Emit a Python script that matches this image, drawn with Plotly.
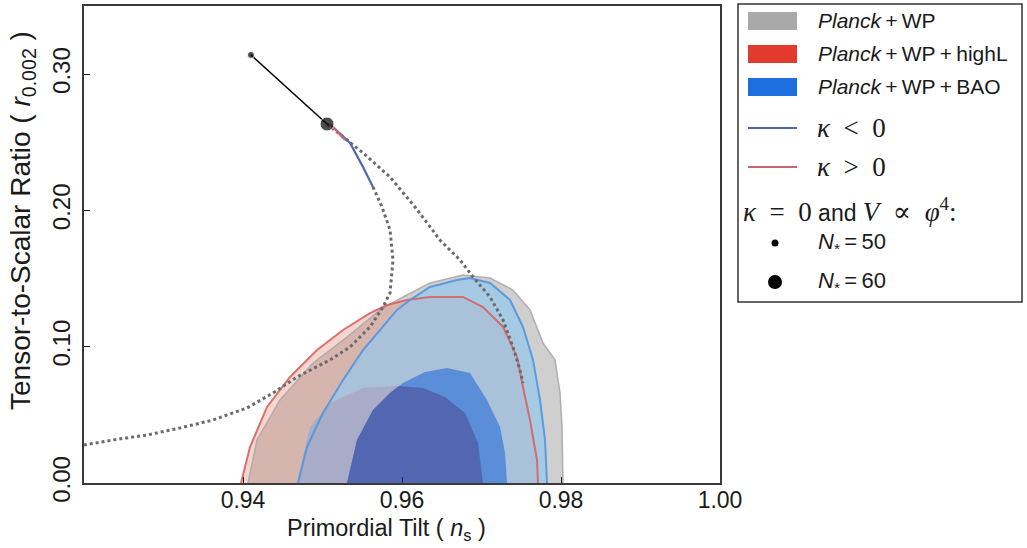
import plotly.graph_objects as go

# ---------------- data ----------------
# 95% / 68% confidence contours: (n_s, r) vertices
gray95_ns = [0.94063, 0.94176, 0.94465, 0.94881, 0.95308, 0.95723, 0.96013, 0.96352, 0.96767,
             0.97107, 0.97396, 0.97610, 0.97774, 0.97925, 0.97988, 0.98013, 0.98025]
gray95_r = [0.0, 0.0316, 0.0609, 0.0881, 0.1071, 0.1270, 0.1365, 0.1468, 0.1526,
            0.1504, 0.1416, 0.1270, 0.1027, 0.0903, 0.0660, 0.0411, 0.0]

red95_ns = [0.93975, 0.94088, 0.94302, 0.94591, 0.94931, 0.95258, 0.95598, 0.95811, 0.96063,
            0.96352, 0.96767, 0.97019, 0.97271, 0.97447, 0.97522, 0.97610, 0.97698, 0.97711]
red95_r = [0.0, 0.0264, 0.0558, 0.0778, 0.0976, 0.1123, 0.1247, 0.1306, 0.1343,
           0.1365, 0.1365, 0.1291, 0.1145, 0.0925, 0.0704, 0.0462, 0.0169, 0.0]

blue95_ns = [0.94692, 0.94805, 0.95006, 0.95258, 0.95510, 0.95761, 0.95937, 0.96101, 0.96352,
             0.96692, 0.96855, 0.97107, 0.97359, 0.97522, 0.97648, 0.97736, 0.97799, 0.97824]
blue95_r = [0.0, 0.0264, 0.0514, 0.0756, 0.0976, 0.1145, 0.1270, 0.1343, 0.1438,
            0.1490, 0.1504, 0.1468, 0.1343, 0.1145, 0.0903, 0.0609, 0.0316, 0.0]

gray68_ns = [0.94679, 0.94843, 0.95094, 0.95510, 0.95937, 0.96264, 0.96541, 0.96793, 0.96956, 0.97019]
gray68_r = [0.0, 0.0411, 0.0587, 0.0697, 0.0712, 0.0697, 0.0631, 0.0514, 0.0294, 0.0]

blue68_ns = [0.95308, 0.95434, 0.95635, 0.95849, 0.96013, 0.96289, 0.96566, 0.96855, 0.97069,
             0.97233, 0.97296, 0.97321]
blue68_r = [0.0, 0.0316, 0.0536, 0.0660, 0.0734, 0.0815, 0.0844, 0.0807, 0.0609,
            0.0411, 0.0220, 0.0]

# model predictions
kneg_ns = [0.95132, 0.95346, 0.95510, 0.95635]
kneg_r = [0.2612, 0.2495, 0.2319, 0.2172]
kpos_ns = [0.95107, 0.95283]
kpos_r = [0.2627, 0.2517]

dotA_ns = [0.95057, 0.95510, 0.95849, 0.96164, 0.96478, 0.96730, 0.96893, 0.97107, 0.97271,
           0.97396, 0.97484, 0.97522]
dotA_r = [0.2634, 0.2422, 0.2245, 0.2025, 0.1783, 0.1636, 0.1512, 0.1365, 0.1196,
          0.0998, 0.0829, 0.0734]
dotB_ns = [0.95635, 0.95749, 0.95849, 0.95887, 0.95849, 0.95761, 0.95598, 0.95346, 0.95094,
           0.94679, 0.94377, 0.94050, 0.93623, 0.93208, 0.92792, 0.92365, 0.92000]
dotB_r = [0.2172, 0.2025, 0.1857, 0.1636, 0.1394, 0.1291, 0.1145, 0.0998, 0.0903,
          0.0778, 0.0660, 0.0550, 0.0462, 0.0404, 0.0352, 0.0316, 0.0279]

phi4_ns = [0.9410, 0.95057]   # N*=50, N*=60
phi4_r = [0.3141, 0.2634]

x_ticks = [0.94, 0.96, 0.98, 1.00]
x_ticktext = ["0.94", "0.96", "0.98", "1.00"]
y_ticks = [0.0, 0.1, 0.2, 0.3]
y_ticktext = ["0.00", "0.10", "0.20", "0.30"]

TS = "\u2009"
legend_labels = [f"<i>Planck</i>{TS}+{TS}WP",
                 f"<i>Planck</i>{TS}+{TS}WP{TS}+{TS}highL",
                 f"<i>Planck</i>{TS}+{TS}WP{TS}+{TS}BAO"]
legend_colors = ["#a9a9a9", "#e23a2c", "#1d6fdf"]


# ---------------- helpers ----------------
def clip_polygon(subject, clipper):
    """Sutherland-Hodgman clipping of subject polygon by (convex) clipper."""
    def area(p):
        return sum(p[i][0] * p[(i + 1) % len(p)][1] - p[(i + 1) % len(p)][0] * p[i][1]
                   for i in range(len(p)))
    sign = 1 if area(clipper) > 0 else -1

    def inside(p, a, b):
        return sign * ((b[0] - a[0]) * (p[1] - a[1]) - (b[1] - a[1]) * (p[0] - a[0])) >= 0

    def inter(p, q, a, b):
        x1, y1 = p; x2, y2 = q; x3, y3 = a; x4, y4 = b
        den = (x1 - x2) * (y3 - y4) - (y1 - y2) * (x3 - x4)
        if den == 0:
            return q
        t = ((x1 - x3) * (y3 - y4) - (y1 - y3) * (x3 - x4)) / den
        return (x1 + t * (x2 - x1), y1 + t * (y2 - y1))

    out = list(subject)
    for i in range(len(clipper)):
        a, b = clipper[i], clipper[(i + 1) % len(clipper)]
        inp, out = out, []
        if not inp:
            break
        s = inp[-1]
        for e in inp:
            if inside(e, a, b):
                if not inside(s, a, b):
                    out.append(inter(s, e, a, b))
                out.append(e)
            elif inside(s, a, b):
                out.append(inter(s, e, a, b))
            s = e
    return out


def closed(xs, ys):
    return list(xs) + [xs[0]], list(ys) + [ys[0]]


fig = go.Figure()


def fill(xs, ys, color):
    cx, cy = closed(xs, ys)
    fig.add_trace(go.Scatter(x=cx, y=cy, mode="lines", fill="toself", fillcolor=color,
                             line=dict(width=0), hoverinfo="skip", showlegend=False))


def outline(xs, ys, color, width):
    fig.add_trace(go.Scatter(x=xs, y=ys, mode="lines", line=dict(color=color, width=width),
                             hoverinfo="skip", showlegend=False))


# 95% regions
fill(gray95_ns, gray95_r, "rgba(168,168,168,0.55)")
fill(red95_ns, red95_r, "rgba(232,128,108,0.33)")
fill(blue95_ns, blue95_r, "rgba(150,200,236,0.70)")
# 68% regions
fill(gray68_ns, gray68_r, "rgb(168,172,198)")
fill(blue68_ns, blue68_r, "rgb(90,142,216)")
ov = clip_polygon(list(zip(gray68_ns, gray68_r)), list(zip(blue68_ns, blue68_r)))
fill([p[0] for p in ov], [p[1] for p in ov], "rgb(83,102,178)")

# outlines
outline(gray95_ns, gray95_r, "rgba(170,170,170,0.9)", 1.5)
outline(red95_ns, red95_r, "rgba(214,100,96,0.9)", 2)
outline(blue95_ns, blue95_r, "rgba(80,150,222,0.9)", 2)

# dotted model curves
for xs, ys in [(dotA_ns, dotA_r), (dotB_ns, dotB_r)]:
    fig.add_trace(go.Scatter(x=xs, y=ys, mode="lines", line=dict(color="#6b6b6b", width=3, dash="3px,3px"),
                             hoverinfo="skip", showlegend=False))

# kappa lines
outline(kneg_ns, kneg_r, "#4f66b2", 2.2)
outline(kpos_ns, kpos_r, "#d06a6e", 2.2)

# phi^4 line and points
fig.add_trace(go.Scatter(x=phi4_ns, y=phi4_r, mode="lines+markers",
                         line=dict(color="black", width=1.5),
                         marker=dict(color="black", size=[7, 14]),
                         hoverinfo="skip", showlegend=False))

# ---------------- layout ----------------
W, H = 1027, 548
L, R, T, B = 84, 720, 6, 483          # plot area in screen pixels


def px(xp):
    return (xp - L) / (R - L)


def py(yp):
    return (B - yp) / (B - T)


fig.update_layout(
    width=W, height=H,
    margin=dict(l=L, r=W - R, t=T, b=H - B, autoexpand=False),
    paper_bgcolor="white", plot_bgcolor="white",
    showlegend=False,
    font=dict(family="Liberation Sans, Arial, sans-serif", color="#1a1a1a"),
    xaxis=dict(range=[0.92, 1.0], tickvals=x_ticks, ticktext=x_ticktext,
               ticks="inside", ticklen=6, tickwidth=1.2, tickcolor="#222",
               showline=True, linecolor="#3a3a3a", linewidth=1.6, mirror=True,
               showgrid=False, zeroline=False, tickfont=dict(size=23),
               ticklabelstandoff=-4, automargin=False),
    yaxis=dict(range=[0, 0.35], tickvals=y_ticks, ticktext=y_ticktext,
               ticks="inside", ticklen=6, tickwidth=1.2, tickcolor="#222",
               showline=True, linecolor="#3a3a3a", linewidth=1.6, mirror=True,
               showgrid=False, zeroline=False, tickfont=dict(size=24),
               tickangle=-90, ticklabelstandoff=3, automargin=False),
)

ann = []
shapes = []
# axis titles
ann.append(dict(text="Primordial Tilt ( <i>n</i><sub>s</sub> )", x=px(386), y=py(529),
                xref="paper", yref="paper", showarrow=False, xanchor="center", yanchor="middle",
                font=dict(size=23.5)))
ann.append(dict(text="Tensor-to-Scalar Ratio ( <i>r</i><sub>0.002</sub> )", x=px(22), y=py(221),
                xref="paper", yref="paper", showarrow=False, xanchor="center", yanchor="middle",
                textangle=-90, font=dict(size=28)))

# legend box
shapes.append(dict(type="rect", xref="paper", yref="paper", x0=px(738), x1=px(1022),
                   y0=py(302), y1=py(4), line=dict(color="#333", width=1.5), fillcolor="white",
                   layer="above"))
rows = [21, 54, 87]
for yc, lab, col in zip(rows, legend_labels, legend_colors):
    shapes.append(dict(type="rect", xref="paper", yref="paper", x0=px(748), x1=px(797),
                       y0=py(yc + 9), y1=py(yc - 9), line=dict(width=0), fillcolor=col, layer="above"))
    ann.append(dict(text=lab, x=px(816), y=py(yc), xref="paper", yref="paper", showarrow=False,
                    xanchor="left", yanchor="middle", font=dict(size=21)))
SERIF = "Liberation Serif, DejaVu Serif, serif"
for yc, sym, col in [(128, "<", "#4f66b2"), (167, ">", "#c8666c")]:
    shapes.append(dict(type="line", xref="paper", yref="paper", x0=px(748), x1=px(797),
                       y0=py(yc), y1=py(yc), line=dict(color=col, width=2), layer="above"))
    ann.append(dict(text=f"<i>κ</i>&nbsp; {sym}&nbsp; 0", x=px(815), y=py(yc), xref="paper", yref="paper",
                    showarrow=False, xanchor="left", yanchor="middle",
                    font=dict(size=27, family=SERIF)))
ann.append(dict(text=f"<span style='font-family:{SERIF};font-size:27px'><i>κ</i>&nbsp; =&nbsp; 0</span>"
                     " and "
                     f"<span style='font-family:{SERIF};font-size:27px'><i>V</i>&nbsp; ∝&nbsp; <i>φ</i><sup>4</sup>:</span>",
                x=px(741), y=py(210), xref="paper", yref="paper", showarrow=False,
                xanchor="left", yanchor="middle", font=dict(size=23)))
for yc, lab, rad in [(243, f"<i>N</i><sub>*</sub>{TS}={TS}50", 3.5),
                     (282, f"<i>N</i><sub>*</sub>{TS}={TS}60", 7)]:
    shapes.append(dict(type="circle", xref="paper", yref="paper", xsizemode="pixel", ysizemode="pixel",
                       xanchor=px(775), yanchor=py(yc), x0=-rad, x1=rad, y0=-rad, y1=rad,
                       fillcolor="black", line=dict(width=0), layer="above"))
    ann.append(dict(text=lab, x=px(816), y=py(yc), xref="paper", yref="paper", showarrow=False,
                    xanchor="left", yanchor="middle", font=dict(size=22)))

fig.update_layout(annotations=ann, shapes=shapes)
# remove the browser's default 8px page margin so the figure sits at the window origin
fig.write_html("out.html", config={"displayModeBar": False},
               post_script="document.body.style.margin='0px';")
